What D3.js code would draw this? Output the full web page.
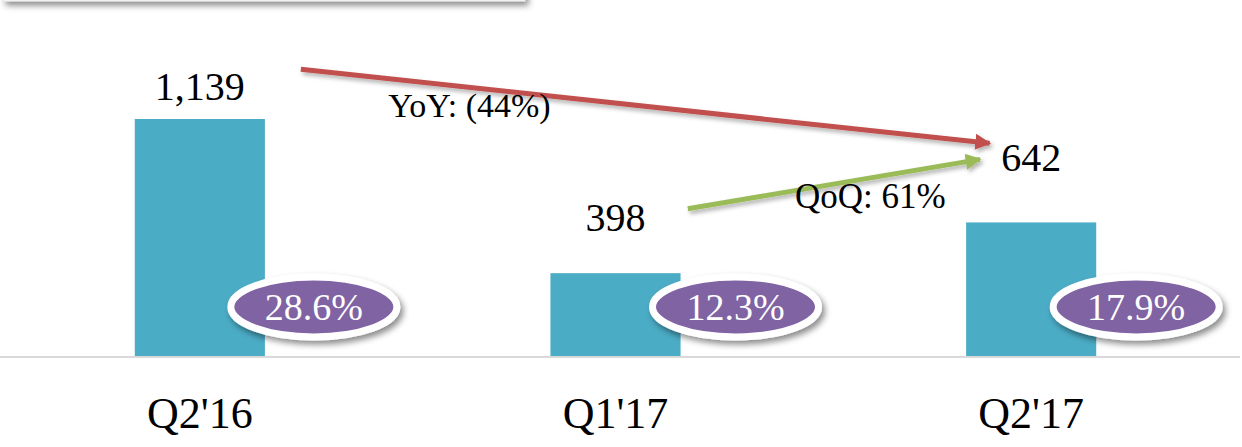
<!DOCTYPE html>
<html>
<head>
<meta charset="utf-8">
<script src="https://cdn.jsdelivr.net/npm/d3@7"></script>
<style>
  html, body { margin: 0; padding: 0; background: #fff; }
  svg { display: block; font-family: "Liberation Serif", "DejaVu Serif", serif; }
</style>
</head>
<body>
<svg id="chart" width="1242" height="447"></svg>
<script>
// chart values
var quarters = ["Q2'16", "Q1'17", "Q2'17"];
var values = [1139, 398, 642];
var valueLabels = ["1,139", "398", "642"];
var margins = ["28.6%", "12.3%", "17.9%"];
// gap between label baseline and bar top (px), labels were placed by hand
var labelGap = [19, 42, 51];

// arrows: [categoryIndexStart, valueStart, categoryIndexEnd, valueEnd]
var yoyArrow = [0.243, 1378, 1.90, 1022];
var qoqArrow = [1.174, 708, 1.877, 945];
var yoyText = "YoY: (44%)";
var qoqText = "QoQ: 61%";

var svg = d3.select("#chart");
var width = +svg.attr("width");
var height = +svg.attr("height");

var baseY = 356;

var xScale = d3.scaleBand()
  .domain(quarters)
  .range([-8, 1239])
  .paddingInner(0.687)
  .paddingOuter(0.3435);

// category index -> pixel (for annotations)
var xIndex = d3.scaleLinear()
  .domain([0, 2])
  .range([xScale(quarters[0]) + xScale.bandwidth() / 2, xScale(quarters[2]) + xScale.bandwidth() / 2]);

var yScale = d3.scaleLinear()
  .domain([0, 1139])
  .range([baseY, 119]);

var defs = svg.append("defs");

var shadow = defs.append("filter").attr("id", "shadow")
  .attr("x", "-20%").attr("y", "-20%").attr("width", "140%").attr("height", "160%");
shadow.append("feDropShadow")
  .attr("dx", 3).attr("dy", 4).attr("stdDeviation", 3)
  .attr("flood-color", "#000").attr("flood-opacity", 0.45);

var lineShadow = defs.append("filter").attr("id", "lineShadow")
  .attr("x", "-5%").attr("y", "-50%").attr("width", "110%").attr("height", "200%");
lineShadow.append("feDropShadow")
  .attr("dx", 2).attr("dy", 3).attr("stdDeviation", 2)
  .attr("flood-color", "#000").attr("flood-opacity", 0.3);

function marker(id, color) {
  defs.append("marker")
    .attr("id", id)
    .attr("viewBox", "0 0 10 10")
    .attr("refX", 9).attr("refY", 5)
    .attr("markerWidth", 3.2).attr("markerHeight", 3.4)
    .attr("markerUnits", "strokeWidth")
    .attr("orient", "auto")
    .append("path")
    .attr("d", "M0,0 L10,5 L0,10 Z")
    .attr("fill", color);
}
marker("redHead", "#C0504D");
marker("greenHead", "#9BBB59");

// box cut off at the top (title panel above the view)
svg.append("rect")
  .attr("x", 3).attr("y", -40)
  .attr("width", 522).attr("height", 41)
  .attr("fill", "#fff")
  .attr("stroke", "#e2e2e2")
  .attr("filter", "url(#shadow)");

// bars
svg.selectAll("rect.bar")
  .data(values)
  .enter().append("rect")
  .attr("class", "bar")
  .attr("x", function (d, i) { return xScale(quarters[i]); })
  .attr("y", function (d) { return yScale(d); })
  .attr("width", xScale.bandwidth())
  .attr("height", function (d) { return baseY - yScale(d); })
  .attr("fill", "#4BACC6");

// baseline
svg.append("line")
  .attr("x1", 0).attr("x2", 1240)
  .attr("y1", baseY + 1).attr("y2", baseY + 1)
  .attr("stroke", "#D9D9D9")
  .attr("stroke-width", 2);

// value labels
svg.selectAll("text.val")
  .data(values)
  .enter().append("text")
  .attr("class", "val")
  .attr("x", function (d, i) { return xScale(quarters[i]) + xScale.bandwidth() / 2; })
  .attr("y", function (d, i) { return yScale(d) - labelGap[i]; })
  .attr("text-anchor", "middle")
  .attr("font-size", 40)
  .attr("fill", "#000")
  .text(function (d, i) { return valueLabels[i]; });

// category labels
svg.selectAll("text.cat")
  .data(quarters)
  .enter().append("text")
  .attr("class", "cat")
  .attr("x", function (d) { return xScale(d) + xScale.bandwidth() / 2; })
  .attr("y", 428)
  .attr("text-anchor", "middle")
  .attr("font-size", 44)
  .attr("fill", "#000")
  .text(function (d) { return d; });

// margin ovals
var ovalOffset = [114, 120, 105];
var ovals = svg.selectAll("g.oval")
  .data(margins)
  .enter().append("g")
  .attr("class", "oval")
  .attr("transform", function (d, i) {
    return "translate(" + (xScale(quarters[i]) + xScale.bandwidth() / 2 + ovalOffset[i]) + "," + yScale(236) + ")";
  });

ovals.append("ellipse")
  .attr("rx", 83).attr("ry", 30)
  .attr("fill", "#8064A2")
  .attr("stroke", "#fff")
  .attr("stroke-width", 7)
  .attr("filter", "url(#shadow)");

ovals.append("text")
  .attr("text-anchor", "middle")
  .attr("y", 13)
  .attr("font-size", 38)
  .attr("fill", "#fff")
  .text(function (d) { return d; });

// arrows
function arrow(a, color, head) {
  svg.append("line")
    .attr("x1", xIndex(a[0])).attr("y1", yScale(a[1]))
    .attr("x2", xIndex(a[2])).attr("y2", yScale(a[3]))
    .attr("stroke", color)
    .attr("stroke-width", 5)
    .attr("marker-end", "url(#" + head + ")")
    .attr("filter", "url(#lineShadow)");
}
arrow(yoyArrow, "#C0504D", "redHead");
arrow(qoqArrow, "#9BBB59", "greenHead");

// annotation texts
svg.append("text")
  .attr("x", xIndex(0.453)).attr("y", 117)
  .attr("font-size", 34)
  .attr("fill", "#000")
  .text(yoyText);

svg.append("text")
  .attr("x", xIndex(1.432)).attr("y", 208)
  .attr("font-size", 35)
  .attr("fill", "#000")
  .text(qoqText);
</script>
</body>
</html>
